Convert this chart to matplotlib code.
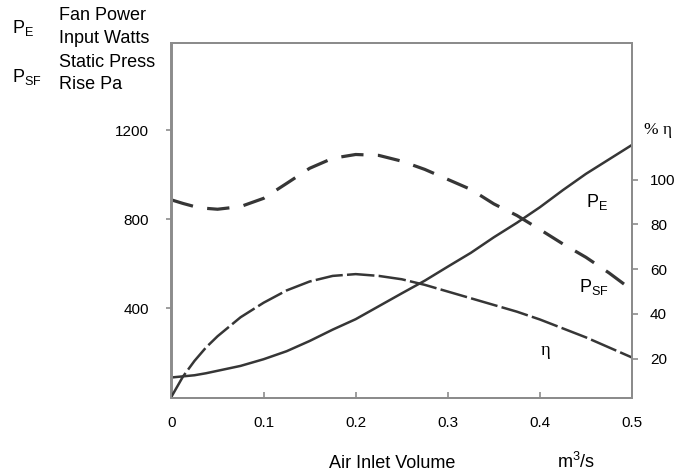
import matplotlib
matplotlib.use("Agg")
import matplotlib.pyplot as plt

plt.rcParams['font.family'] = ['Liberation Sans', 'DejaVu Sans']
plt.rcParams['mathtext.fontset'] = 'custom'
plt.rcParams['mathtext.rm'] = 'Liberation Sans'
plt.rcParams['mathtext.it'] = 'Liberation Sans'

# Air inlet volume (m3/s)
flow = [0.0, 0.0125, 0.025, 0.0375, 0.05, 0.075, 0.1, 0.125, 0.15, 0.175, 0.2,
        0.225, 0.25, 0.275, 0.3, 0.325, 0.35, 0.375, 0.4, 0.425, 0.45,
        0.475, 0.5]
# Fan power input (W)
fan_power = [90, 95, 100, 109, 120, 142, 172, 208, 254, 305, 352,
             410, 468, 525, 588, 650, 720, 785, 855, 932, 1005,
             1070, 1135]
# Static pressure rise (Pa)
static_press = [888, 872, 858, 850, 846, 858, 895, 962, 1030, 1075, 1092,
                1088, 1062, 1025, 980, 935, 870, 818, 755, 690, 630,
                560, 483]
# Efficiency (%)
efficiency = [3, 12, 19, 25, 30, 38.5, 45, 50.5, 54.5, 57, 57.8,
              57, 55.5, 53, 50, 47, 44, 41, 37.5, 33.5, 29.5,
              25, 20.5]

x_ticks = [0, 0.1, 0.2, 0.3, 0.4, 0.5]
x_tick_labels = ['0', '0.1', '0.2', '0.3', '0.4', '0.5']
left_ticks = [400, 800, 1200]
right_ticks = [20, 40, 60, 80, 100]

W, H = 691, 473
fig = plt.figure(figsize=(W / 100, H / 100), dpi=100)
L, R, T, B = 171.5, 632, 43, 397.5
ax = fig.add_axes([L / W, 1 - B / H, (R - L) / W, (B - T) / H])

line_col = '#363636'
frame_col = '#8c8c8c'

ax.plot(flow, fan_power, color=line_col, lw=1.8)
ax.plot(flow, static_press, color=line_col, lw=2.3, dashes=(7, 4.5))
ax.set_xlim(0, 0.5)
ax.set_ylim(0, 1593)

ax2 = ax.twinx()
ax2.plot(flow, efficiency, color=line_col, lw=1.8, dashes=(11, 1.7))
ax2.set_ylim(2.6, 161.2)

for a in (ax, ax2):
    for s in a.spines.values():
        s.set_color(frame_col)
        s.set_linewidth(1.4)

ax.set_xticks(x_ticks)
ax.set_xticklabels(x_tick_labels)
ax.set_yticks(left_ticks)
ax.set_yticklabels([str(v) for v in left_ticks])
ax2.set_yticks(right_ticks)
ax2.set_yticklabels([str(v) for v in right_ticks])

ax.tick_params(axis='x', direction='in', length=4, width=1.2, color=frame_col,
               pad=13, labelsize=11)
ax.tick_params(axis='y', direction='out', length=4, width=1.2, color=frame_col,
               pad=12, labelsize=11)
ax2.tick_params(axis='y', direction='out', length=4, width=1.2, color=frame_col,
                pad=9, labelsize=11)


def ftext(x, y, s, **kw):
    fig.text(x / W, 1 - y / H, s, **kw)


big = 13
ftext(59, 20, 'Fan Power', fontsize=big, va='baseline', ha='left')
ftext(59, 43, 'Input Watts', fontsize=big, va='baseline', ha='left')
ftext(59, 67, 'Static Press', fontsize=big, va='baseline', ha='left')
ftext(59, 89, 'Rise Pa', fontsize=big, va='baseline', ha='left')
ftext(12, 33, r'P$_\mathrm{E}$', fontsize=big, va='baseline', ha='left')
ftext(12, 82, r'P$_\mathrm{SF}$', fontsize=big, va='baseline', ha='left')

ftext(392, 468, 'Air Inlet Volume', fontsize=big, va='baseline', ha='center')
ftext(557, 468, r'm$^3$/s', fontsize=big, va='baseline', ha='left')
ftext(644, 134, '% η', fontsize=12.5, va='baseline', ha='left',
      family=['Liberation Serif', 'DejaVu Serif'])

ftext(586, 207, r'P$_\mathrm{E}$', fontsize=big, va='baseline', ha='left')
ftext(579, 292, r'P$_\mathrm{SF}$', fontsize=big, va='baseline', ha='left')
ftext(541, 355, 'η', fontsize=13.5, va='baseline', ha='left',
      family=['Liberation Serif', 'DejaVu Serif'])

fig.savefig('out.png', dpi=100)
